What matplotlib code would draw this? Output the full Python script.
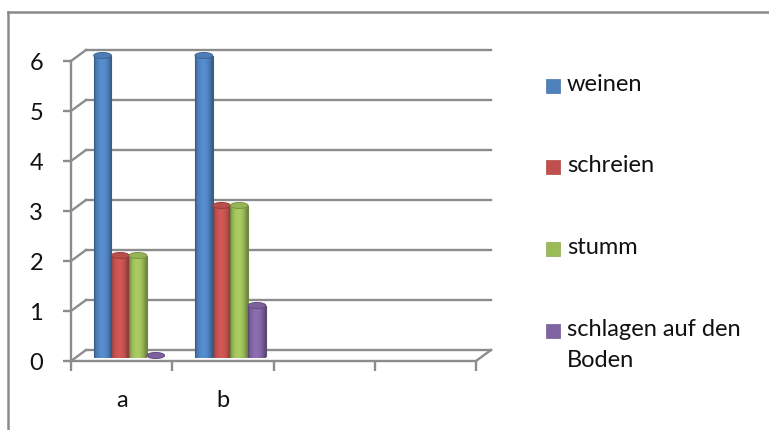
import numpy as np
import matplotlib
matplotlib.use("Agg")
import matplotlib.pyplot as plt
from matplotlib.lines import Line2D
from matplotlib.patches import Ellipse, PathPatch, Rectangle
from matplotlib.path import Path
from matplotlib.colors import to_rgb, to_hex

plt.rcParams['font.family'] = ['Lato', 'DejaVu Sans']

# --- data ---------------------------------------------------------------
categories = ["a", "b", "", ""]
series_names = ["weinen", "schreien", "stumm", "schlagen auf den\nBoden"]
series_colors = ["#4F81BD", "#C0504D", "#9BBB59", "#8064A2"]
weinen = [6, 6]
schreien = [2, 3]
stumm = [2, 3]
schlagen = [0, 1]
series_values = [weinen, schreien, stumm, schlagen]
y_ticks = [0, 1, 2, 3, 4, 5, 6]

# --- figure / axes --------------------------------------------------------
W, H = 769, 430
fig = plt.figure(figsize=(W / 100, H / 100), dpi=100)
fig.patch.set_facecolor("white")

ax_l, ax_r, ax_b, ax_t = 71, 476, 361, 61  # pixel box of the front plane
ax = fig.add_axes([ax_l / W, 1 - ax_b / H, (ax_r - ax_l) / W, (ax_b - ax_t) / H])
n_cat = len(categories)
ax.set_xlim(0, n_cat)
ax.set_ylim(0, max(y_ticks))
ax.set_facecolor("none")

grid_c = "#8c8c8c"
for s in ("top", "right"):
    ax.spines[s].set_visible(False)
for s in ("left", "bottom"):
    ax.spines[s].set_color(grid_c)
    ax.spines[s].set_linewidth(1.7)

# depth of the 3-D box in data units
px_x = (ax_r - ax_l) / n_cat
px_y = (ax_b - ax_t) / max(y_ticks)
dx = 15 / px_x
dy = 11 / px_y

# back wall gridlines and the diagonal connectors at the left wall
for v in y_ticks:
    ax.add_line(Line2D([dx, n_cat + dx], [v + dy, v + dy], color=grid_c,
                       lw=1.7, clip_on=False, zorder=1))
    ax.add_line(Line2D([0, dx], [v, v + dy], color=grid_c, lw=1.7,
                       clip_on=False, zorder=1))
# right edge of the floor
ax.add_line(Line2D([n_cat, n_cat + dx], [0, dy], color=grid_c, lw=1.7,
                   clip_on=False, zorder=1))

# ticks
ax.set_yticks(y_ticks)
ax.tick_params(axis="y", direction="out", length=6, width=1.7, color=grid_c,
               pad=14, labelsize=17, labelcolor="#111111")
ax.set_xticks(np.arange(n_cat + 1))
ax.set_xticklabels([""] * (n_cat + 1))
ax.set_xticks(np.arange(n_cat) + 0.5, minor=True)
ax.set_xticklabels(categories, minor=True)
ax.tick_params(axis="x", which="major", direction="out", length=7, width=1.7,
               color=grid_c)
ax.tick_params(axis="x", which="minor", length=0, pad=21, labelsize=17,
               labelcolor="#111111")


def shade(rgb, f):
    return to_hex(np.clip(np.array(rgb) * f, 0, 1))


def cylinder(x0, w, base, height, color, z):
    rgb = to_rgb(color)
    eh = 0.12  # ellipse height in data units
    top = base + height
    # body gradient across the cylinder
    t = np.linspace(0, 1, 64)
    f = 0.74 + 0.36 * np.sin(np.pi * np.clip(t * 1.08, 0, 1)) ** 0.7
    grad = np.clip(np.array(rgb)[None, None, :] * f[None, :, None], 0, 1)
    # outline of the body: sides plus the rounded bottom
    th = np.linspace(np.pi, 2 * np.pi, 40)
    xs = x0 + w / 2 + (w / 2) * np.cos(th)
    ys = base + (eh / 2) * np.sin(th)
    verts = [(x0, top)] + list(zip(xs, ys)) + [(x0 + w, top), (x0, top)]
    codes = [Path.MOVETO] + [Path.LINETO] * (len(verts) - 2) + [Path.CLOSEPOLY]
    outline = PathPatch(Path(verts, codes), facecolor="none", edgecolor="none",
                        lw=0, clip_on=False, zorder=z)
    ax.add_patch(outline)
    if height > 0:
        im = ax.imshow(grad, extent=[x0, x0 + w, base - eh / 2, top],
                       aspect="auto", interpolation="bilinear", zorder=z,
                       clip_on=False)
        im.set_clip_path(outline)
        ax.add_line(Line2D([x0, x0], [base, top], color=shade(rgb, 0.72),
                           lw=0.8, clip_on=False, zorder=z + 0.1))
        ax.add_line(Line2D([x0 + w, x0 + w], [base, top],
                           color=shade(rgb, 0.72), lw=0.8, clip_on=False,
                           zorder=z + 0.1))
    else:
        ax.add_patch(Ellipse((x0 + w / 2, base), w, eh,
                             facecolor=shade(rgb, 0.85), edgecolor="none",
                             clip_on=False, zorder=z))
    ax.add_patch(Ellipse((x0 + w / 2, top), w, eh, facecolor=shade(rgb, 0.97),
                         edgecolor=shade(rgb, 0.78), lw=0.7, clip_on=False,
                         zorder=z + 0.3))


bar_w = 0.175
group_off = 0.15
for i in range(len(weinen)):
    for j, vals in enumerate(series_values):
        x0 = i + group_off + j * bar_w + dx / 2
        cylinder(x0, bar_w, dy / 2, vals[i], series_colors[j], 3 + j * 0.01)

ax.set_xlim(0, n_cat)
ax.set_ylim(0, max(y_ticks))

# legend entries
leg_x, leg_y0, leg_step = 546, 86, 81.5
sq = 14
for k, (name, col) in enumerate(zip(series_names, series_colors)):
    yc = leg_y0 + k * leg_step
    fig.add_artist(Rectangle((leg_x / W, 1 - (yc + sq / 2) / H), sq / W, sq / H,
                             transform=fig.transFigure, facecolor=col,
                             edgecolor=shade(to_rgb(col), 0.9), lw=0.5))
    fig.text((leg_x + sq + 7) / W, 1 - (yc - 12) / H, name, ha="left",
             va="top", fontsize=17, color="#111111", linespacing=1.6,
             transform=fig.transFigure)

# chart area frame
fig.add_artist(Line2D([7.5 / W, 1], [1 - 12 / H, 1 - 12 / H], color="#8a8a8a",
                      lw=1.8, transform=fig.transFigure))
fig.add_artist(Line2D([7.5 / W, 7.5 / W], [0, 1 - 12 / H], color="#8a8a8a",
                      lw=1.8, transform=fig.transFigure))

fig.savefig("out.png", dpi=100, facecolor="white")
